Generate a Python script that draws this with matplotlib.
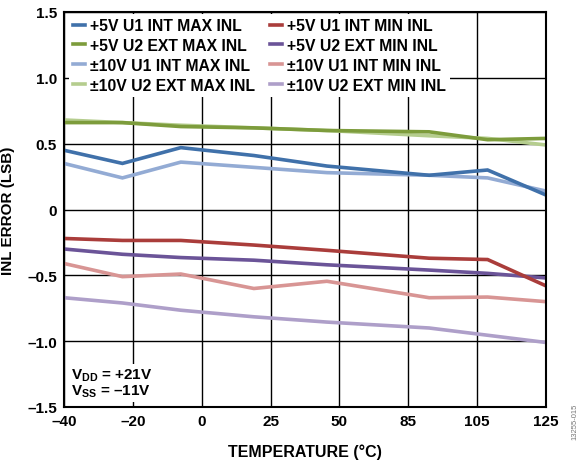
import numpy as np
import matplotlib
matplotlib.use("Agg")
import matplotlib.pyplot as plt

plt.rcParams['font.family'] = ['Liberation Sans', 'DejaVu Sans']
plt.rcParams['font.weight'] = 'bold'
plt.rcParams['mathtext.fontset'] = 'custom'
plt.rcParams['mathtext.rm'] = 'Liberation Sans:bold'
plt.rcParams['mathtext.bf'] = 'Liberation Sans:bold'

temps = [-40, -20, 0, 25, 50, 85, 105, 125]
tick_labels = ["–40", "–20", "0", "25", "50", "85", "105", "125"]
y_ticks = [1.5, 1.0, 0.5, 0, -0.5, -1.0, -1.5]
y_tick_labels = ["1.5", "1.0", "0.5", "0", "–0.5", "–1.0", "–1.5"]

u1_int_max_5 = [0.45, 0.35, 0.47, 0.41, 0.33, 0.26, 0.30, 0.11]
u2_ext_max_5 = [0.66, 0.66, 0.63, 0.62, 0.60, 0.59, 0.53, 0.54]
u1_int_max_10 = [0.35, 0.24, 0.36, 0.32, 0.28, 0.26, 0.24, 0.14]
u2_ext_max_10 = [0.68, 0.66, 0.64, 0.62, 0.60, 0.56, 0.54, 0.49]
u1_int_min_5 = [-0.22, -0.235, -0.235, -0.27, -0.31, -0.37, -0.38, -0.58]
u2_ext_min_5 = [-0.30, -0.34, -0.365, -0.385, -0.42, -0.46, -0.485, -0.52]
u1_int_min_10 = [-0.41, -0.51, -0.49, -0.60, -0.545, -0.67, -0.665, -0.70]
u2_ext_min_10 = [-0.67, -0.71, -0.765, -0.815, -0.855, -0.90, -0.955, -1.01]

series = [
    ("+5V U1 INT MAX INL", u1_int_max_5, "#4071AA"),
    ("+5V U2 EXT MAX INL", u2_ext_max_5, "#7D9C3C"),
    ("±10V U1 INT MAX INL", u1_int_max_10, "#93ABD4"),
    ("±10V U2 EXT MAX INL", u2_ext_max_10, "#B5CD8E"),
    ("+5V U1 INT MIN INL", u1_int_min_5, "#AA3D3B"),
    ("+5V U2 EXT MIN INL", u2_ext_min_5, "#6B5498"),
    ("±10V U1 INT MIN INL", u1_int_min_10, "#D89594"),
    ("±10V U2 EXT MIN INL", u2_ext_min_10, "#AE9FC9"),
]

fig = plt.figure(figsize=(5.85, 4.64), dpi=100)
ax = fig.add_axes([64/585, (464-408)/464, 482/585, 395/464])

order = [3, 1, 2, 0, 7, 6, 5, 4]
handles = {}
for i in order:
    name, vals, col = series[i]
    h, = ax.plot(temps, vals, color=col, lw=2.6, label=name, zorder=3,
                 solid_joinstyle='miter')
    handles[i] = h

ax.set_xlim(-40, 125)
ax.set_ylim(-1.5, 1.5)
xpos = np.linspace(-40, 125, len(tick_labels))
ax.set_xticks(xpos)
ax.set_xticklabels(tick_labels)
ax.set_yticks(y_ticks)
ax.set_yticklabels(y_tick_labels)
ax.tick_params(length=0, labelsize=11, pad=5)
for lab in ax.get_xticklabels() + ax.get_yticklabels():
    lab.set_fontweight('bold')
ax.grid(True, color='black', lw=1.0, zorder=1)
ax.set_axisbelow(True)
for s in ax.spines.values():
    s.set_linewidth(1.5)
    s.set_zorder(5)

ax.set_xlabel("TEMPERATURE (°C)", fontsize=11.5, fontweight='bold', labelpad=11)
ax.set_ylabel("INL ERROR (LSB)", fontsize=11, fontweight='bold', labelpad=9)

leg = ax.legend([handles[i] for i in range(8)], [s[0] for s in series],
                ncol=2, loc='upper left', bbox_to_anchor=(0.006, 1.0),
                frameon=True, fancybox=False, edgecolor='none', framealpha=1,
                fontsize=11.3, handlelength=0.76, handletextpad=0.32,
                columnspacing=0.95, labelspacing=0.31, borderpad=0.27,
                borderaxespad=0.12)
for t in leg.get_texts():
    t.set_fontweight('bold')
leg.set_zorder(6)

ax.text(0.015, 0.02, "$\\mathbf{V_{DD}}$ = +21V\n$\\mathbf{V_{SS}}$ = –11V",
        transform=ax.transAxes, fontsize=11, fontweight='bold',
        va='bottom', ha='left', linespacing=1.0, zorder=6,
        bbox=dict(facecolor='white', edgecolor='none', pad=2))

fig.text(0.982, 0.09, "13255-015", rotation=90, fontsize=5.5,
         color='#777777', fontweight='normal', ha='center', va='center')

fig.savefig("out.png", dpi=100)
